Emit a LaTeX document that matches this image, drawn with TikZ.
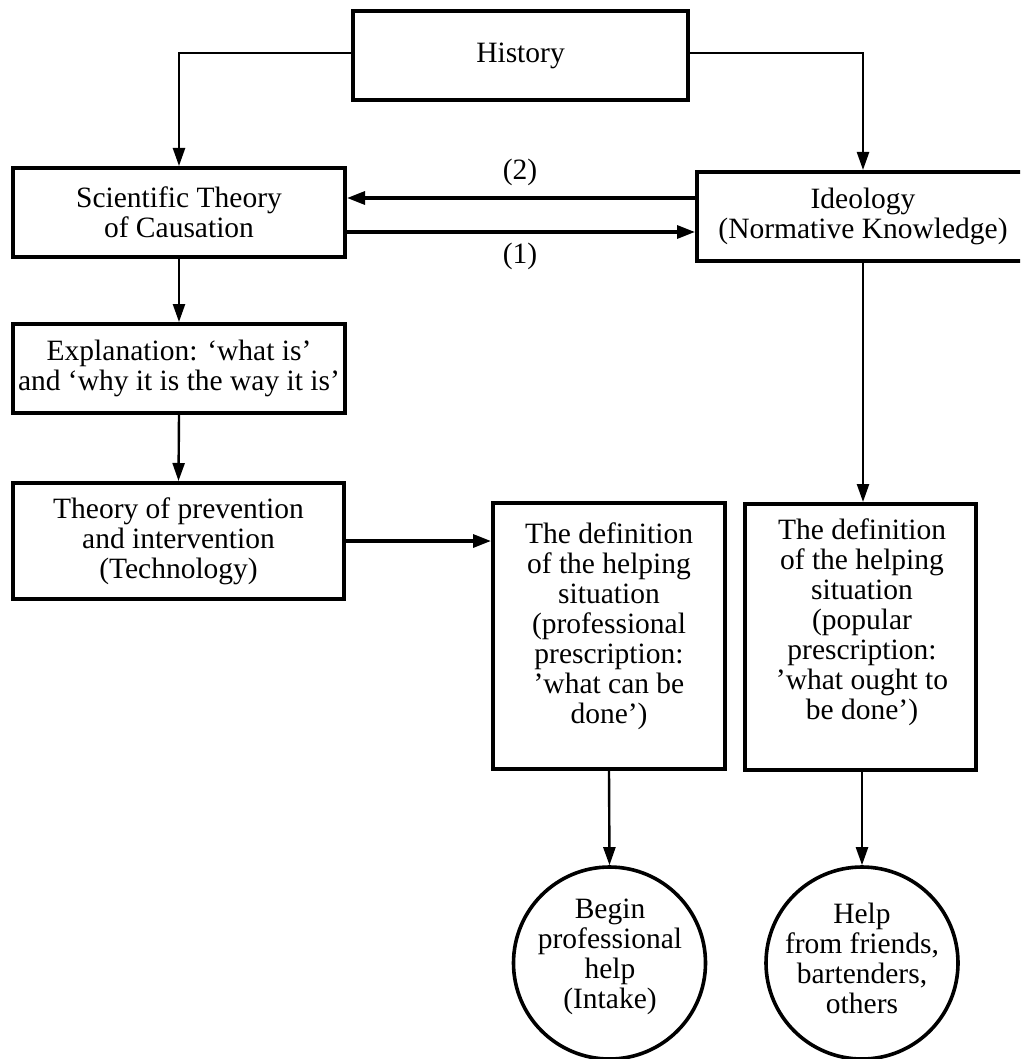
\documentclass[tikz,border=0pt]{standalone}
\usepackage{fontspec}
\setmainfont{Liberation Serif}
\usetikzlibrary{arrows.meta}
\begin{document}
\begin{tikzpicture}[x=1pt,y=-1pt,
  every node/.style={font=\fontsize{29.5}{30}\selectfont, align=center, inner sep=0pt},
  box/.style={draw, rectangle, line width=4pt},
  circ/.style={draw, circle, line width=3.6pt, minimum size=192pt},
  arr/.style={line width=2.4pt, -{Triangle[length=18pt,width=12pt]}},
  thickarr/.style={line width=3.2pt, -{Triangle[length=18pt,width=13pt]}},
  lbl/.style={}]
\path[use as bounding box] (0,0) rectangle (1020,1059);
\clip (0,0) rectangle (1020,1059);
\fill[white] (0,0) rectangle (1020,1059);

\node[box, minimum width=335pt, minimum height=89pt] (hist) at (520.5,55.5) {History};
\node[box, minimum width=332pt, minimum height=89pt] (sci) at (179,212.5) {Scientific Theory\\of Causation};
\node[box, minimum width=332pt, minimum height=89pt] (ideo) at (863,216.5) {Ideology\\(Normative Knowledge)};
\node[box, minimum width=332pt, minimum height=89pt] (expl) at (179,368.5) {Explanation: ‘what is’\\and ‘why it is the way it is’};
\node[box, minimum width=331pt, minimum height=116pt] (theo) at (178.5,541) {Theory of prevention\\and intervention\\(Technology)};
\node[box, minimum width=232pt, minimum height=266pt] (prof) at (609,636) {};
\node (proftext) at (609,626) {The definition\\of the helping\\situation\\(professional\\prescription:\\’what can be\\done’)};
\node[box, minimum width=231pt, minimum height=266pt] (pop) at (860.5,637) {};
\node (poptext) at (862,622) {The definition\\of the helping\\situation\\(popular\\prescription:\\’what ought to\\be done’)};
\node[circ] (c1) at (609.5,963) {};
\node (c1text) at (610,957) {Begin\\professional\\help\\(Intake)};
\node[circ] (c2) at (862,963) {};
\node (c2text) at (862,958) {Help\\from friends,\\bartenders,\\others};

\node[lbl] (l2) at (520,172) {(2)};
\node[lbl] (l1) at (520,256) {(1)};

\coordinate (y2) at (0,198);
\coordinate (y1) at (0,232);
\coordinate (yh) at (0,53);

\draw[arr] (hist.west |- yh) -| (sci.north);
\draw[arr] (hist.east |- yh) -| (ideo.north);
\draw[thickarr] (ideo.west |- y2) -- (sci.east |- y2);
\draw[thickarr] (sci.east |- y1) -- (ideo.west |- y1);
\draw[arr] (sci.south) -- (expl.north);
\draw[arr] (expl.south) -- (theo.north);
\draw[thickarr] (theo.east) -- (prof.west |- theo.east);
\draw[arr] (ideo.south) -- (ideo.south |- pop.north);
\draw[arr] (prof.south) -- (c1.north);
\draw[arr] (c2.north |- pop.south) -- (c2.north);
\end{tikzpicture}
\end{document}
